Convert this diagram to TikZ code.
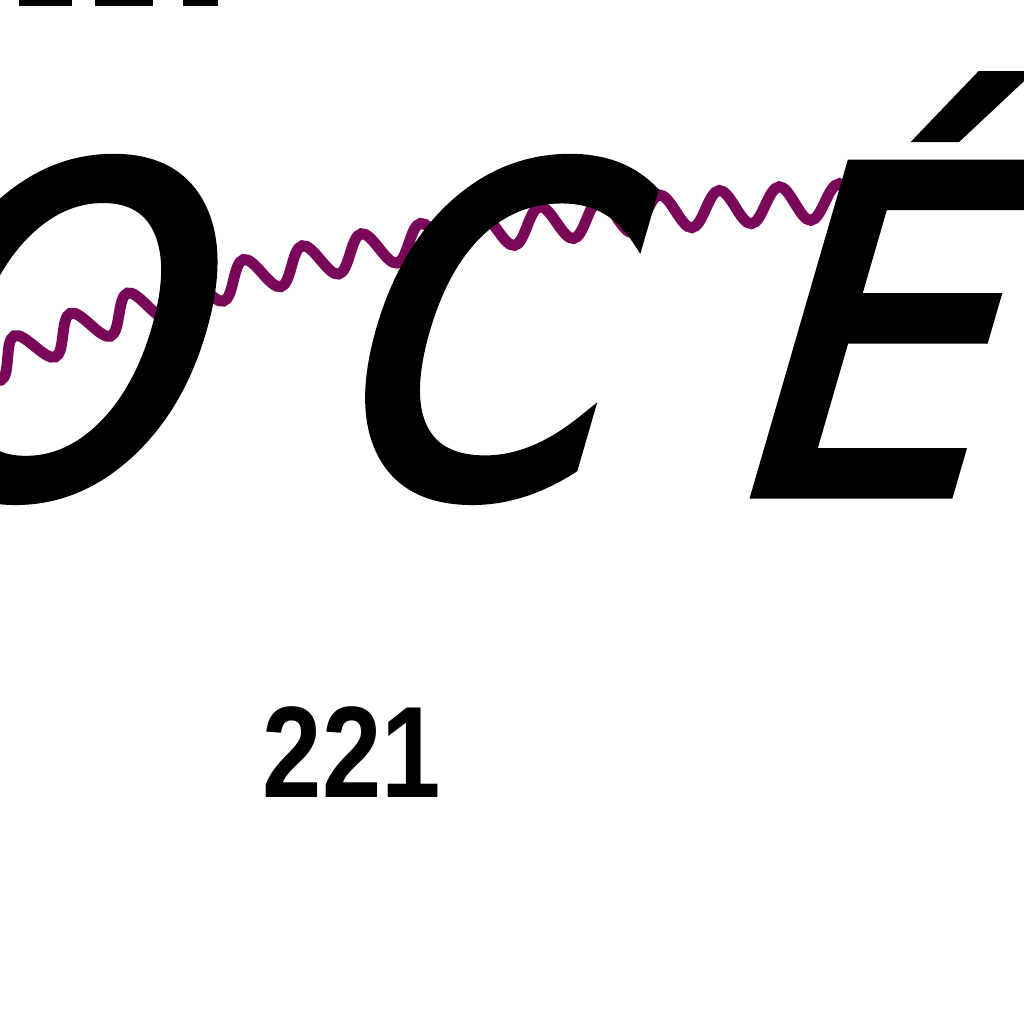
\documentclass[tikz,border=0pt]{standalone}
\usepackage{fontspec}
\newfontfamily\letterfont{DejaVu Sans}[FakeSlant=0.29,FakeBold=3,FakeStretch=0.9]
\newfontfamily\letterfontC{DejaVu Sans}[FakeSlant=0.29,FakeBold=3,FakeStretch=0.87]
\newfontfamily\labelfont{Liberation Sans}
\usetikzlibrary{decorations.pathmorphing}
\definecolor{wavepurple}{RGB}{122,8,90}
\tikzset{
  bigletter/.style={anchor=base west, inner sep=0pt, outer sep=0pt, font=\letterfont\fontsize{127}{127}\selectfont},
  bigletterC/.style={bigletter, font=\letterfontC\fontsize{127}{127}\selectfont},
  numlabel/.style={anchor=base west, inner sep=0pt, font=\labelfont\bfseries\fontsize{37}{37}\selectfont},
  wave/.style={draw=wavepurple, line width=3.1pt, decorate, decoration={snake, amplitude=5pt, segment length=17pt}},
  bar/.style={fill=black, draw=none}
}
\begin{document}
\begin{tikzpicture}[x=0.01cm, y=-0.01cm]
\useasboundingbox (0,0) rectangle (1024,1024);
\coordinate (wstart) at (-50,385);
\coordinate (wend) at (870,206);
\draw[wave] (wstart) .. controls (200,263) and (500,220) .. (wend);
\node[bigletter] (O) at (-141,492) {O};
\node[bigletterC] (C) at (314,492) {C};
\node[bigletter] (E) at (719,492) {É};
\node[numlabel] (lab) at (262,797) {\scalebox{0.82}[1]{221}};
\fill[bar] (19,0) rectangle (72,6);
\fill[bar] (95,0) rectangle (153,6);
\fill[bar] (183,0) rectangle (218,6);
\end{tikzpicture}
\end{document}
